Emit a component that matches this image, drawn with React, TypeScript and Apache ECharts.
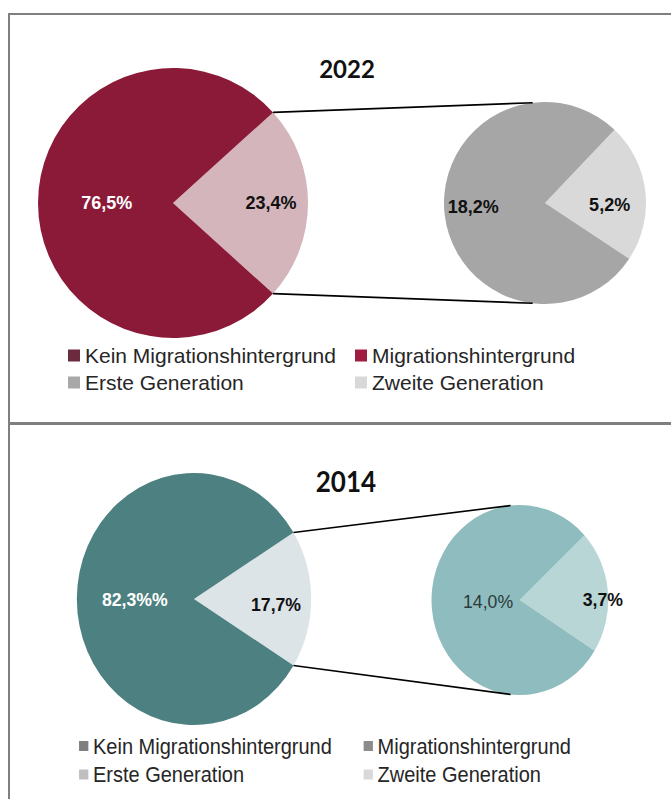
import React, { useEffect, useRef } from "react";
import * as echarts from "echarts";

// ---------- data ----------
const CATEGORIES_MAIN = ["Kein Migrationshintergrund", "Migrationshintergrund"];
const CATEGORIES_SPLIT = ["Erste Generation", "Zweite Generation"];

const TITLE_2022 = "2022";
const MAIN_2022 = [76.5, 23.4]; // Kein, Migrationshintergrund
const SPLIT_2022 = [18.2, 5.2]; // Erste, Zweite Generation
const LABELS_MAIN_2022 = ["76,5%", "23,4%"];
const LABELS_SPLIT_2022 = ["18,2%", "5,2%"];

const TITLE_2014 = "2014";
const MAIN_2014 = [82.3, 17.7];
const SPLIT_2014 = [14.0, 3.7];
const LABELS_MAIN_2014 = ["82,3%%", "17,7%"];
const LABELS_SPLIT_2014 = ["14,0%", "3,7%"];

// ---------- layout / style ----------
const LABEL_FONT = "'Liberation Sans', Arial, sans-serif";
const TITLE_FONT = "Lato, 'Open Sans', sans-serif";

type Panel = {
  title: string;
  titleX: number;
  titleY: number;
  titleSize: number;
  main: number[];
  split: number[];
  mainLabels: string[];
  splitLabels: string[];
  c1: [number, number];
  r1: number;
  c2: [number, number];
  r2: number;
  splitStart: number;
  connAngle: number;
  mainColors: string[];
  splitColors: string[];
  mainLabelColors: string[];
  splitLabelColors: string[];
  mainLabelWeights: string[];
  splitLabelWeights: string[];
  mainLabelPos: [number, number][];
  splitLabelPos: [number, number][];
  labelSize: number;
  legendLeft: [number, number];
  legendTop: number;
  legendIcon: number;
  legendFont: number;
  legendGap: number;
  legendColors: string[]; // Kein, Migration, Erste, Zweite
};

const PANEL_2022: Panel = {
  title: TITLE_2022,
  titleX: 347,
  titleY: 68,
  titleSize: 24,
  main: MAIN_2022,
  split: SPLIT_2022,
  mainLabels: LABELS_MAIN_2022,
  splitLabels: LABELS_SPLIT_2022,
  c1: [173, 203],
  r1: 135,
  c2: [545, 203],
  r2: 101,
  splitStart: 46.5,
  connAngle: 97,
  mainColors: ["#8a1a38", "#d3b5bb"],
  splitColors: ["#a6a6a6", "#d9d9d9"],
  mainLabelColors: ["#ffffff", "#111111"],
  splitLabelColors: ["#111111", "#111111"],
  mainLabelWeights: ["bold", "bold"],
  splitLabelWeights: ["bold", "bold"],
  mainLabelPos: [
    [-0.49, 0],
    [0.726, 0],
  ],
  splitLabelPos: [
    [-0.71, 0.04],
    [0.64, 0.02],
  ],
  labelSize: 18,
  legendLeft: [68, 355],
  legendTop: 345,
  legendIcon: 12,
  legendFont: 21,
  legendGap: 6,
  legendColors: ["#6b2a3d", "#a01c40", "#a8a8a8", "#d8d8d8"],
};

const PANEL_2014: Panel = {
  title: TITLE_2014,
  titleX: 372,
  titleY: 57,
  titleSize: 28,
  main: MAIN_2014,
  split: SPLIT_2014,
  mainLabels: LABELS_MAIN_2014,
  splitLabels: LABELS_SPLIT_2014,
  c1: [208.6, 175],
  r1: 126,
  c2: [559, 176],
  r2: 95,
  splitStart: 43,
  connAngle: 96,
  mainColors: ["#4d8081", "#dde4e8"],
  splitColors: ["#8fbcbe", "#b8d6d6"],
  mainLabelColors: ["#ffffff", "#111111"],
  splitLabelColors: ["#2b3a3b", "#111111"],
  mainLabelWeights: ["bold", "bold"],
  splitLabelWeights: ["normal", "bold"],
  mainLabelPos: [
    [-0.505, 0],
    [0.7, 0.04],
  ],
  splitLabelPos: [
    [-0.36, 0.01],
    [0.94, -0.01],
  ],
  labelSize: 19,
  legendLeft: [85, 391],
  legendTop: 311,
  legendIcon: 10,
  legendFont: 21.5,
  legendGap: 6.5,
  legendColors: ["#7f7f7f", "#8c8c8c", "#bfbfbf", "#d9d9d9"],
};

const rad = (d: number) => (d * Math.PI) / 180;

function buildOption(p: Panel): any {
  const sumMain = p.main[0] + p.main[1];
  const half = (p.main[1] / sumMain) * 180;
  const [cx1, cy1] = p.c1;
  const [cx2, cy2] = p.c2;
  const ex = cx1 + p.r1 * Math.cos(rad(half));
  const ey = p.r1 * Math.sin(rad(half));
  const rx = cx2 + p.r2 * Math.cos(rad(p.connAngle));
  const ry = p.r2 * Math.sin(rad(p.connAngle));

  // data order: wedge first (drawn on the right side)
  const mainOrder = [1, 0];
  const splitOrder = [1, 0];

  const mkData = (
    order: number[],
    names: string[],
    values: number[],
    labels: string[],
    colors: string[],
    lColors: string[],
    lWeights: string[]
  ) =>
    order.map((i) => ({
      name: names[i],
      value: values[i],
      labelText: labels[i],
      itemStyle: { color: colors[i] },
      label: { color: lColors[i], fontWeight: lWeights[i] },
    }));

  const commonPie = {
    type: "pie",
    silent: true,
    clockwise: true,
    avoidLabelOverlap: false,
    labelLine: { show: false },
    emphasis: { disabled: true },
    itemStyle: { borderWidth: 0 },
  };

  const labelBase = {
    show: true,
    position: "inside",
    fontFamily: LABEL_FONT,
    fontSize: p.labelSize,
    formatter: (q: any) => q.data.labelText,
  };

  const legendCommon = {
    orient: "vertical",
    top: p.legendTop,
    padding: 0,
    icon: "rect",
    itemWidth: p.legendIcon,
    itemHeight: p.legendIcon,
    itemGap: p.legendGap,
    selectedMode: false,
    textStyle: {
      fontFamily: LABEL_FONT,
      fontSize: p.legendFont,
      color: "#262626",
    },
  };

  return {
    animation: false,
    backgroundColor: "transparent",
    legend: [
      {
        ...legendCommon,
        left: p.legendLeft[0],
        data: [
          { name: CATEGORIES_MAIN[0], itemStyle: { color: p.legendColors[0] } },
          { name: CATEGORIES_SPLIT[0], itemStyle: { color: p.legendColors[2] } },
        ],
      },
      {
        ...legendCommon,
        left: p.legendLeft[1],
        data: [
          { name: CATEGORIES_MAIN[1], itemStyle: { color: p.legendColors[1] } },
          { name: CATEGORIES_SPLIT[1], itemStyle: { color: p.legendColors[3] } },
        ],
      },
    ],
    graphic: [
      {
        type: "text",
        x: p.titleX,
        y: p.titleY,
        style: {
          text: p.title,
          fill: "#111",
          font: `bold ${p.titleSize}px ${TITLE_FONT}`,
          align: "center",
          verticalAlign: "middle",
        },
      },
      {
        type: "line",
        z: 10,
        shape: { x1: ex, y1: cy1 - ey, x2: rx, y2: cy2 - ry },
        style: { stroke: "#000", lineWidth: 1.6 },
      },
      {
        type: "line",
        z: 10,
        shape: { x1: ex, y1: cy1 + ey, x2: rx, y2: cy2 + ry },
        style: { stroke: "#000", lineWidth: 1.6 },
      },
    ],
    series: [
      {
        ...commonPie,
        name: "main",
        center: [cx1, cy1],
        radius: p.r1,
        startAngle: half,
        label: labelBase,
        labelLayout: (q: any) => {
          const pos = p.mainLabelPos[mainOrder[q.dataIndex]];
          return {
            x: cx1 + pos[0] * p.r1,
            y: cy1 + pos[1] * p.r1,
            align: "center",
            verticalAlign: "middle",
          };
        },
        data: mkData(
          mainOrder,
          CATEGORIES_MAIN,
          p.main,
          p.mainLabels,
          p.mainColors,
          p.mainLabelColors,
          p.mainLabelWeights
        ),
      },
      {
        ...commonPie,
        name: "split",
        center: [cx2, cy2],
        radius: p.r2,
        startAngle: p.splitStart,
        label: labelBase,
        labelLayout: (q: any) => {
          const pos = p.splitLabelPos[splitOrder[q.dataIndex]];
          return {
            x: cx2 + pos[0] * p.r2,
            y: cy2 + pos[1] * p.r2,
            align: "center",
            verticalAlign: "middle",
          };
        },
        data: mkData(
          splitOrder,
          CATEGORIES_SPLIT,
          p.split,
          p.splitLabels,
          p.splitColors,
          p.splitLabelColors,
          p.splitLabelWeights
        ),
      },
    ],
  };
}

const SCALE_X_2014 = 0.93;

export default function App() {
  const topRef = useRef<HTMLDivElement>(null);
  const botRef = useRef<HTMLDivElement>(null);

  useEffect(() => {
    const a = echarts.init(topRef.current!, undefined, { renderer: "svg" });
    a.setOption(buildOption(PANEL_2022));
    const b = echarts.init(botRef.current!, undefined, { renderer: "svg" });
    b.setOption(buildOption(PANEL_2014));
    return () => {
      a.dispose();
      b.dispose();
    };
  }, []);

  return (
    <div
      style={{
        position: "absolute",
        left: 0,
        top: 0,
        width: 671,
        height: 799,
        overflow: "hidden",
        background: "#ffffff",
      }}
    >
      <div
        ref={topRef}
        style={{ position: "absolute", left: 0, top: 0, width: 671, height: 424 }}
      />
      <div
        style={{
          position: "absolute",
          left: 0,
          top: 424,
          width: 671,
          height: 375,
          overflow: "hidden",
        }}
      >
        <div
          ref={botRef}
          style={{
            position: "absolute",
            left: 0,
            top: 0,
            width: Math.round(671 / SCALE_X_2014),
            height: 375,
            transform: `scaleX(${SCALE_X_2014})`,
            transformOrigin: "0 0",
          }}
        />
      </div>
      <div
        style={{
          position: "absolute",
          left: 8,
          top: 13,
          width: 700,
          height: 411,
          boxSizing: "border-box",
          border: "2px solid #7f7f7f",
          pointerEvents: "none",
        }}
      />
      <div
        style={{
          position: "absolute",
          left: 8,
          top: 423,
          width: 700,
          height: 400,
          boxSizing: "border-box",
          borderTop: "2px solid #7f7f7f",
          borderLeft: "2px solid #7f7f7f",
          pointerEvents: "none",
        }}
      />
    </div>
  );
}
